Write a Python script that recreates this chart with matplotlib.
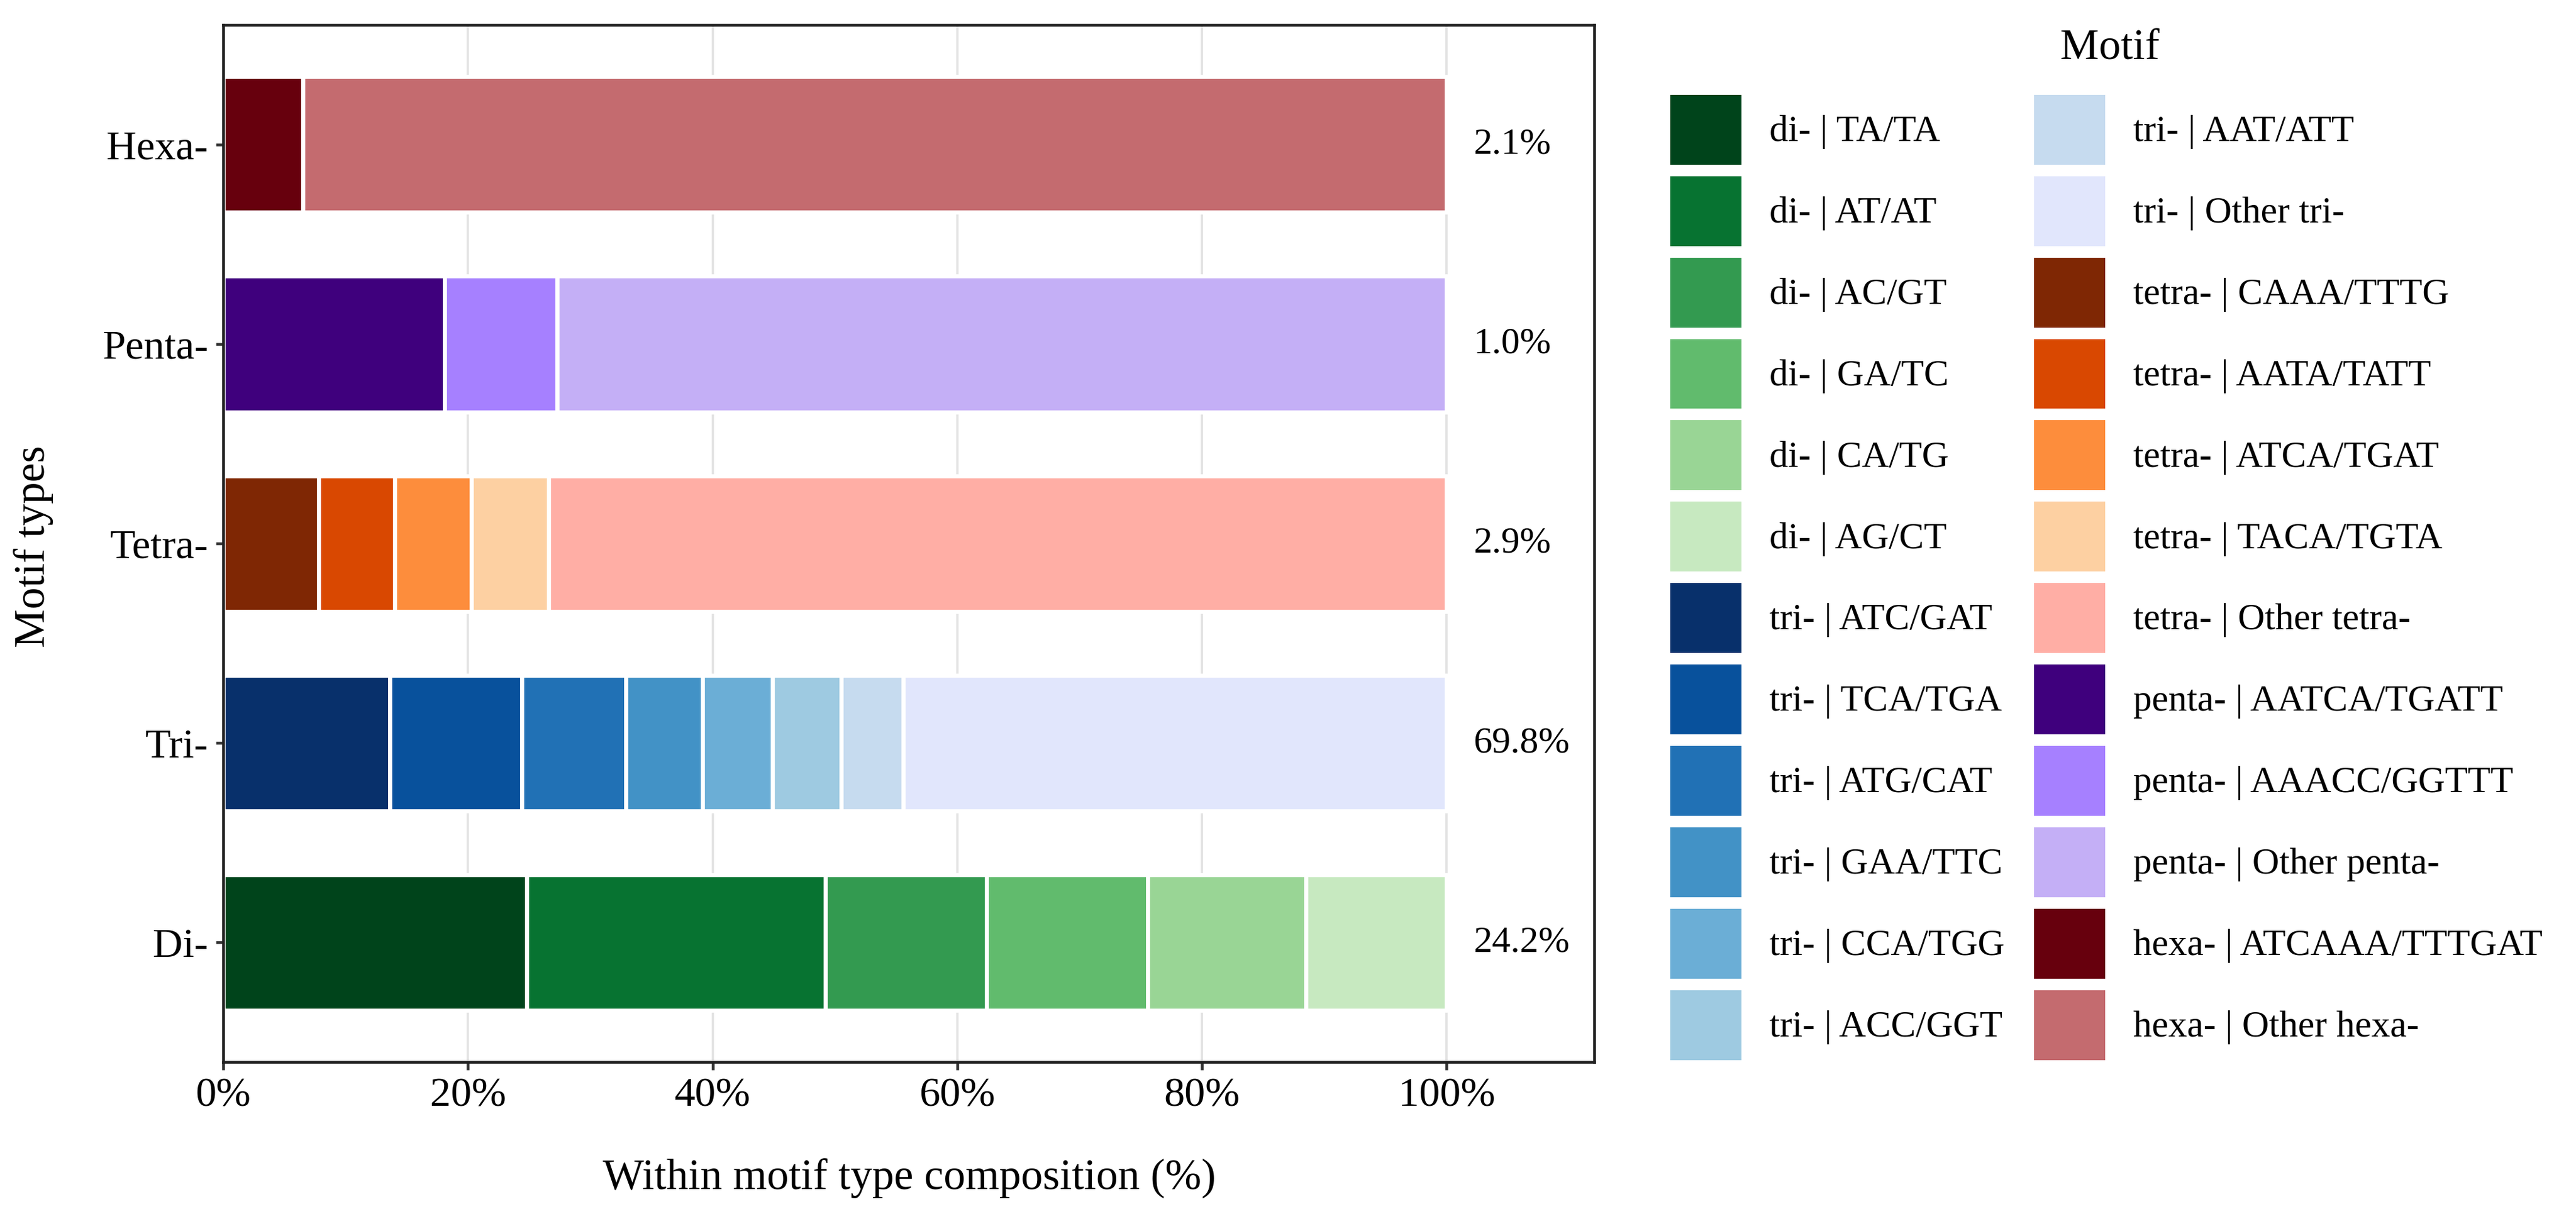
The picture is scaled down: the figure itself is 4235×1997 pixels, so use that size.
import matplotlib
matplotlib.use("Agg")
import matplotlib.pyplot as plt
from matplotlib.patches import Patch
import numpy as np

plt.rcParams['font.family'] = ['Liberation Serif', 'DejaVu Serif']

# ---------------- data ----------------
motif_types = ["Di-", "Tri-", "Tetra-", "Penta-", "Hexa-"]
type_share = ["24.2%", "69.8%", "2.9%", "1.0%", "2.1%"]

di_labels = ["di- | TA/TA", "di- | AT/AT", "di- | AC/GT", "di- | GA/TC", "di- | CA/TG", "di- | AG/CT"]
di_values = [24.8, 24.4, 13.2, 13.2, 12.9, 11.5]
di_colors = ["#00441b", "#077331", "#339a50", "#61bb6d", "#99d595", "#c7e9c0"]

tri_labels = ["tri- | ATC/GAT", "tri- | TCA/TGA", "tri- | ATG/CAT", "tri- | GAA/TTC",
              "tri- | CCA/TGG", "tri- | ACC/GGT", "tri- | AAT/ATT", "tri- | Other tri-"]
tri_values = [13.6, 10.8, 8.5, 6.3, 5.7, 5.6, 5.1, 44.4]
tri_colors = ["#08306b", "#08519c", "#2171b5", "#4292c6", "#6baed6", "#9ecae1", "#c6dbef", "#e1e6fc"]

tetra_labels = ["tetra- | CAAA/TTTG", "tetra- | AATA/TATT", "tetra- | ATCA/TGAT",
                "tetra- | TACA/TGTA", "tetra- | Other tetra-"]
tetra_values = [7.8, 6.2, 6.3, 6.3, 73.4]
tetra_colors = ["#7f2704", "#d94801", "#fd8d3c", "#fdd0a2", "#ffaea5"]

penta_labels = ["penta- | AATCA/TGATT", "penta- | AAACC/GGTTT", "penta- | Other penta-"]
penta_values = [18.1, 9.2, 72.7]
penta_colors = ["#3f007d", "#a680ff", "#c4aff6"]

hexa_labels = ["hexa- | ATCAAA/TTTGAT", "hexa- | Other hexa-"]
hexa_values = [6.5, 93.5]
hexa_colors = ["#67000d", "#c46b6f"]

groups = [
    (di_labels, di_values, di_colors),
    (tri_labels, tri_values, tri_colors),
    (tetra_labels, tetra_values, tetra_colors),
    (penta_labels, penta_values, penta_colors),
    (hexa_labels, hexa_values, hexa_colors),
]

# ---------------- figure ----------------
W, H = 4235, 1997
fig = plt.figure(figsize=(W / 300, H / 300), dpi=300)
ax = fig.add_axes([0.0867, 0.125, 0.619 - 0.0867, 0.9795 - 0.125])

ax.set_xlim(0, 112.1)
ax.set_ylim(-0.6, 4.6)

for x in [0, 20, 40, 60, 80, 100]:
    ax.axvline(x, color="#e3e3e3", lw=0.9, zorder=0)

bar_h = 0.68
for yi, (labs, vals, cols) in enumerate(groups):
    left = 0.0
    for lab, v, c in zip(labs, vals, cols):
        ax.barh(yi, v, left=left, height=bar_h, color=c, edgecolor="white",
                linewidth=1.6, zorder=2)
        left += v
    ax.text(102.2, yi, type_share[yi], ha="left", va="center", fontsize=14.7)

ax.set_yticks(range(len(motif_types)))
ax.set_yticklabels(motif_types, fontsize=16.4)
ax.set_xticks([0, 20, 40, 60, 80, 100])
ax.set_xticklabels(["0%", "20%", "40%", "60%", "80%", "100%"], fontsize=16.4)
ax.tick_params(axis="both", direction="out", length=3.0, width=1.1, color="#333333", pad=3)

for s in ax.spines.values():
    s.set_linewidth(1.1)
    s.set_color("#222222")
    s.set_zorder(5)

fig.text(0.353, 0.029, "Within motif type composition (%)", ha="center", va="center", fontsize=17.2)
fig.text(0.013, 0.55, "Motif types", ha="center", va="center", rotation=90, fontsize=17.2)

# ---------------- legend ----------------
handles, labels = [], []
for labs, vals, cols in groups:
    for lab, c in zip(labs, cols):
        handles.append(Patch(facecolor=c, edgecolor="none"))
        labels.append(lab)

fig.legend(handles, labels, ncol=2, loc="upper left", bbox_to_anchor=(0.6485, 0.922),
           frameon=False, fontsize=14.7, handlelength=1.9, handleheight=2.51,
           handletextpad=0.75, labelspacing=0.31, columnspacing=0.8,
           borderpad=0, borderaxespad=0)
fig.text(0.819, 0.960, "Motif", ha="center", va="center", fontsize=17.2)

fig.savefig("out.png", dpi=300, facecolor="white")
